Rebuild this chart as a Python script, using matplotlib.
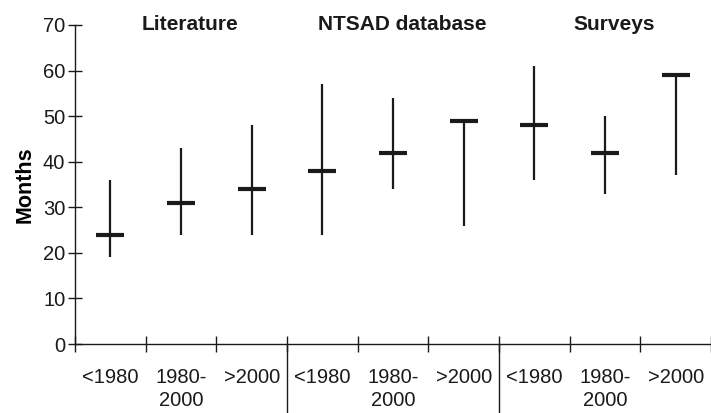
import matplotlib.pyplot as plt
from matplotlib import transforms

plt.rcParams['font.family'] = ['Liberation Sans', 'DejaVu Sans']

groups = ["Literature", "NTSAD database", "Surveys"]
periods = ["<1980", "1980-\n2000", ">2000"]
medians = [24, 31, 34, 38, 42, 49, 48, 42, 59]
lows = [19, 24, 24, 24, 34, 26, 36, 33, 37]
highs = [36, 43, 48, 57, 54, 49, 61, 50, 59]

ink = "#1a1a1a"
n = len(medians)
xs = list(range(n))

fig = plt.figure(figsize=(7.11, 4.13), dpi=100)
ax = fig.add_axes([0.1055, 0.167, 0.8945, 0.7725])

ax.vlines(xs, lows, highs, color=ink, lw=1.6)
ax.plot(xs, medians, ls="none", marker="_", ms=20, mew=3, color=ink)

ax.set_xlim(-0.5, n - 0.5)
ax.set_ylim(0, 70)
ax.set_yticks(range(0, 71, 10))
ax.tick_params(axis="y", direction="inout", length=10, width=1,
               labelsize=14.5, colors=ink, pad=2)

# boundaries as major ticks, labels on minor ticks
ax.set_xticks([i - 0.5 for i in range(n + 1)])
ax.set_xticklabels([])
ax.set_xticks(xs, minor=True)
ax.set_xticklabels(periods * len(groups), minor=True)
ax.tick_params(axis="x", which="major", direction="inout", length=12, width=1, colors=ink)
ax.tick_params(axis="x", which="minor", length=0, labelsize=14.5, pad=17, colors=ink)
for lab in ax.get_xticklabels(minor=True):
    lab.set_linespacing(1.3)

for side in ["top", "right"]:
    ax.spines[side].set_visible(False)
for side in ["left", "bottom"]:
    ax.spines[side].set_color(ink)
    ax.spines[side].set_linewidth(1)

ax.set_ylabel("Months", fontsize=15.5, fontweight="bold", labelpad=5)

# group separators and titles
trans = transforms.blended_transform_factory(ax.transData, ax.transAxes)
for g in range(1, len(groups)):
    xb = g * 3 - 0.5
    ax.plot([xb, xb], [0, -0.3], transform=trans, color=ink, lw=1, clip_on=False)
for g, name in enumerate(groups):
    ax.text(g * 3 + 1.13, 70.2, name, ha="center", va="center",
            fontsize=15, fontweight="bold", color=ink)

fig.savefig("out.png", dpi=100)
